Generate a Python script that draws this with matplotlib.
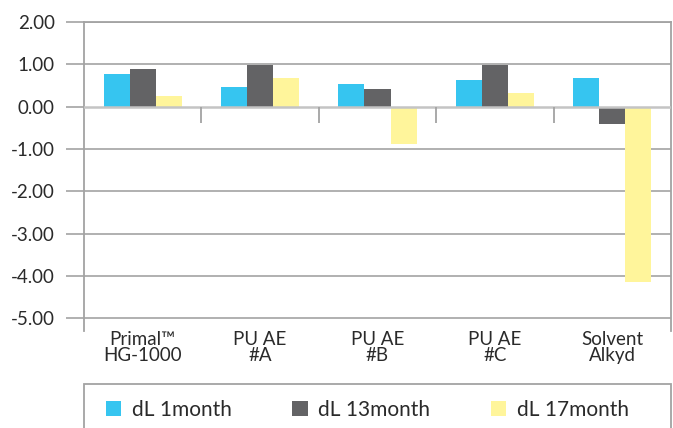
import matplotlib
matplotlib.use("Agg")
import matplotlib.pyplot as plt
from matplotlib.patches import Rectangle
import numpy as np

plt.rcParams["font.family"] = ["Lato", "DejaVu Sans"]

categories = ["Primal\u2122\nHG-1000", "PU AE\n#A", "PU AE\n#B", "PU AE\n#C", "Solvent\nAlkyd"]
series_names = ["dL 1month", "dL 13month", "dL 17month"]
dl_1month = [0.77, 0.46, 0.53, 0.63, 0.67]
dl_13month = [0.88, 0.98, 0.41, 0.98, -0.41]
dl_17month = [0.25, 0.67, -0.88, 0.32, -4.15]
yticks = [2, 1, 0, -1, -2, -3, -4, -5]

COLORS = ["#36C5F0", "#636365", "#FFF59B"]
GRID = "#a3a3a3"
TEXT = "#2a2a2a"

fig = plt.figure(figsize=(6.73, 4.28), dpi=100)
ax = fig.add_axes([84/673, 1 - 331/428, 587/673, 309/428])

x = np.arange(len(categories))
w = 0.222
for i, (vals, name) in enumerate(zip([dl_1month, dl_13month, dl_17month], series_names)):
    ax.bar(x + (i - 1) * w, vals, width=w, color=COLORS[i], label=name, zorder=3)

ax.set_xlim(-0.5, len(categories) - 0.5)
ax.set_ylim(-5.3, 2.0)

# gridlines
for v in yticks:
    if v == 0:
        ax.axhline(v, color="#c4c4c4", linewidth=1.8, zorder=4)
    else:
        ax.axhline(v, color=GRID, linewidth=1.2, zorder=1)

# category separator ticks at the zero line
ax.vlines(x[:-1] + 0.5, -0.38, 0, color=GRID, linewidth=1.3, zorder=4)

ax.set_yticks(yticks)
ax.set_yticklabels([f"{v:.2f}" for v in yticks], fontsize=13.5, color=TEXT)
ax.tick_params(axis="y", length=13, width=1.2, color=GRID, pad=8)

ax.set_xticks(x)
ax.set_xticklabels(categories, fontsize=13.5, color=TEXT, linespacing=0.95)
ax.tick_params(axis="x", length=0, pad=0)

for s in ["left", "right", "top"]:
    ax.spines[s].set_color(GRID)
    ax.spines[s].set_linewidth(1.3)
ax.spines["bottom"].set_visible(False)

# legend box
fig.patches.append(Rectangle((84/673, -0.1), 587/673, 44/428 + 0.1,
                             transform=fig.transFigure, fill=False,
                             edgecolor=GRID, linewidth=1.3))
handles, labels = ax.get_legend_handles_labels()
fig.legend(handles, labels, loc="center left", bbox_to_anchor=(87/673, 1 - 410/428),
           ncol=3, frameon=False, fontsize=15, handlelength=0.75, handleheight=0.75,
           handletextpad=0.5, columnspacing=2.9, labelcolor=TEXT)

fig.savefig("out.png", dpi=100)
